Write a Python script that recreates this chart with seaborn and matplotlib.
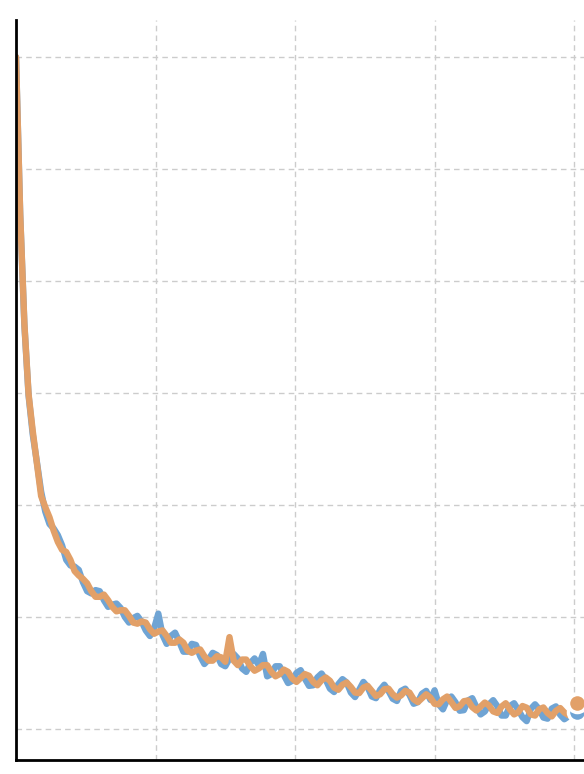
import numpy as np
import pandas as pd
import matplotlib
matplotlib.use("Agg")
import matplotlib.pyplot as plt
import seaborn as sns

# training steps (every 30 steps)
steps = np.arange(0, 4021, 30)

run_a = [6.00, 4.59, 3.61, 2.98, 2.63, 2.38, 2.12, 1.94, 1.83, 1.79,
         1.73, 1.64, 1.51, 1.46, 1.45, 1.42, 1.31, 1.23, 1.21, 1.24,
         1.23, 1.15, 1.09, 1.11, 1.12, 1.08, 1.00, 0.95, 0.99, 1.01,
         0.96, 0.88, 0.83, 0.90, 1.03, 0.84, 0.76, 0.83, 0.86, 0.78,
         0.69, 0.69, 0.76, 0.75, 0.65, 0.58, 0.62, 0.68, 0.66, 0.58,
         0.56, 0.63, 0.67, 0.63, 0.54, 0.51, 0.59, 0.63, 0.57, 0.67,
         0.47, 0.49, 0.56, 0.56, 0.48, 0.41, 0.43, 0.50, 0.525, 0.45,
         0.385, 0.39, 0.46, 0.495, 0.44, 0.36, 0.33, 0.40, 0.445, 0.415,
         0.325, 0.285, 0.35, 0.42, 0.375, 0.29, 0.275, 0.35, 0.395, 0.34,
         0.27, 0.25, 0.34, 0.36, 0.305, 0.225, 0.24, 0.315, 0.34, 0.26,
         0.345, 0.22, 0.175, 0.26, 0.29, 0.238, 0.163, 0.168, 0.254, 0.275,
         0.195, 0.13, 0.156, 0.22, 0.257, 0.203, 0.12, 0.12, 0.205, 0.23,
         0.17, 0.105, 0.07, 0.18, 0.22, 0.176, 0.102, 0.092, 0.182, 0.202,
         0.127, 0.087, 0.113, 0.163, 0.15]

run_b = [6.00, 4.60, 3.62, 2.99, 2.66, 2.37, 2.08, 1.98, 1.89, 1.77,
         1.67, 1.60, 1.58, 1.51, 1.41, 1.37, 1.34, 1.30, 1.23, 1.18,
         1.18, 1.20, 1.15, 1.09, 1.05, 1.06, 1.06, 1.01, 0.95, 0.94,
         0.96, 0.95, 0.89, 0.85, 0.87, 0.88, 0.83, 0.77, 0.77, 0.80,
         0.77, 0.70, 0.68, 0.70, 0.71, 0.65, 0.61, 0.61, 0.65, 0.64,
         0.60, 0.82, 0.61, 0.57, 0.62, 0.62, 0.56, 0.52, 0.54, 0.57,
         0.57, 0.51, 0.47, 0.49, 0.53, 0.51, 0.45, 0.42, 0.455, 0.49,
         0.475, 0.42, 0.39, 0.435, 0.46, 0.43, 0.37, 0.35, 0.395, 0.415,
         0.375, 0.325, 0.32, 0.37, 0.385, 0.34, 0.295, 0.31, 0.355, 0.36,
         0.31, 0.28, 0.30, 0.34, 0.325, 0.265, 0.24, 0.275, 0.31, 0.28,
         0.225, 0.22, 0.265, 0.29, 0.24, 0.188, 0.203, 0.248, 0.254, 0.195,
         0.165, 0.20, 0.236, 0.21, 0.157, 0.143, 0.20, 0.23, 0.175, 0.13,
         0.15, 0.205, 0.19, 0.13, 0.12, 0.176, 0.192, 0.142, 0.112, 0.162,
         0.187, 0.147, 0.123, 0.183, 0.23]

x_ticks = [0, 1000, 2000, 3000, 4000]
y_ticks = [0, 1, 2, 3, 4, 5, 6]

colors = {"a": "#6fa4d4", "b": "#e2a068"}

df = pd.concat([
    pd.DataFrame({"step": steps, "loss": run_a, "run": "a"}),
    pd.DataFrame({"step": steps, "loss": run_b, "run": "b"}),
])

sns.set_style("white")
fig = plt.figure(figsize=(5.84, 7.74), dpi=100)
ax = fig.add_axes([16/584, 14/774, 586/584, 740/774])

sns.lineplot(data=df, x="step", y="loss", hue="run", palette=colors,
             linewidth=4.6, legend=False, ax=ax, estimator=None,
             solid_joinstyle="round", solid_capstyle="round")

# end-point markers
for run in ["a", "b"]:
    last = df[df.run == run].iloc[-1]
    ax.plot(last.step, last.loss, "o", ms=13, color=colors[run],
            mec="white", mew=2.5, zorder=5, clip_on=False)

ax.set_xlim(0, 4200)
ax.set_ylim(-0.277, 6.33)
ax.set_xticks(x_ticks)
ax.set_yticks(y_ticks)
ax.set_xticklabels([])
ax.set_yticklabels([])
ax.set_xlabel("")
ax.set_ylabel("")
ax.grid(True, linestyle=(0, (4, 3)), color="#cccccc", linewidth=1)
ax.set_axisbelow(True)
for s in ["top", "right"]:
    ax.spines[s].set_visible(False)
for s in ["left", "bottom"]:
    ax.spines[s].set_color("black")
    ax.spines[s].set_linewidth(2)
ax.tick_params(axis="both", length=8, width=2, color="black", direction="out")

fig.savefig("out.png", dpi=100)
